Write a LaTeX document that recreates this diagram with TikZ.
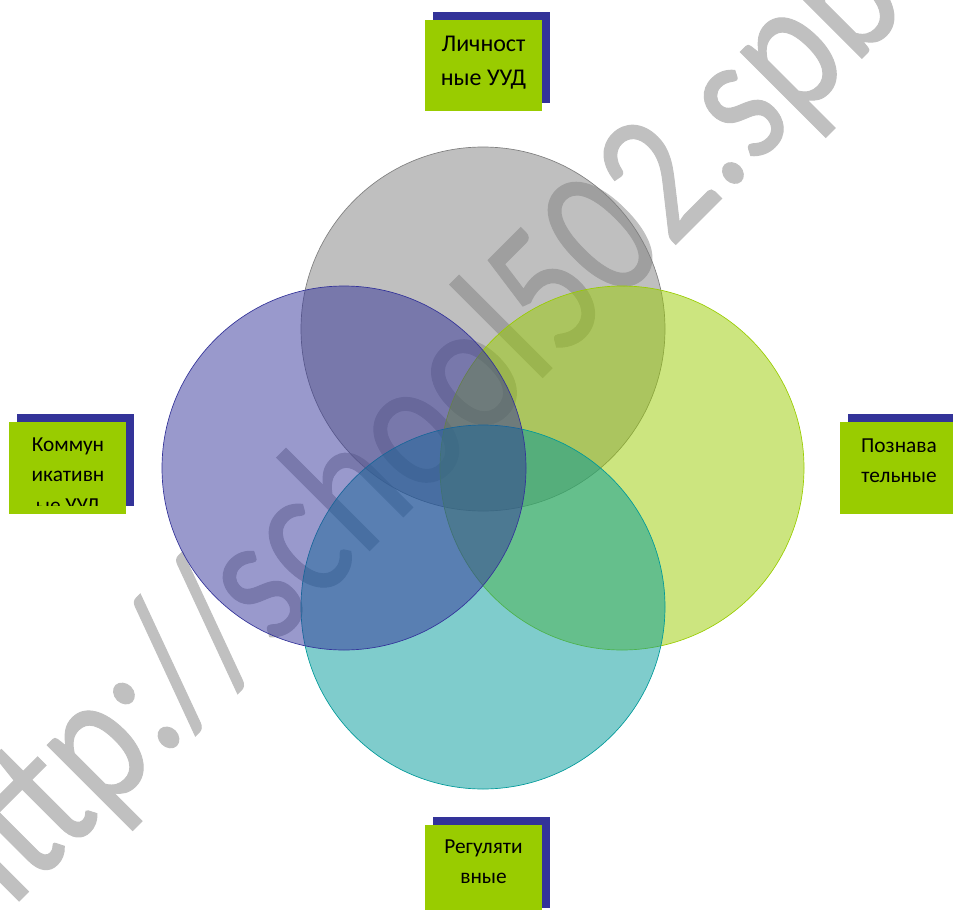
\documentclass[tikz,border=0pt]{standalone}
\usepackage{fontspec}
\setmainfont{Carlito}
\newfontfamily\wmfont[FakeBold=0.6]{Carlito}
\definecolor{shadowblue}{HTML}{333399}
\definecolor{boxgreen}{HTML}{99CC00}
\definecolor{cgray}{HTML}{7F7F7F}
\definecolor{cteal}{HTML}{009999}
\definecolor{wm}{HTML}{C0C0C0}
\tikzset{
  venn/.style={circle,minimum size=273pt,inner sep=0pt,fill opacity=0.5,line width=0.5pt},
  boxshadow/.style={fill=shadowblue,draw=none},
  boxfront/.style={fill=boxgreen,draw=none},
  lab/.style={align=center,font=\fontsize{16pt}{22.5pt}\selectfont,text=black,inner sep=0pt,anchor=north},
  labbig/.style={align=center,font=\fontsize{18pt}{25.5pt}\selectfont,text=black,inner sep=0pt,anchor=north},
}
\begin{document}
\begin{tikzpicture}[x=0.75pt,y=-0.75pt]
\useasboundingbox (0,0) rectangle (953,910);
\clip (0,0) rectangle (953,910);
\node[rotate=45,xscale=0.86,yscale=1.05,transform shape,anchor=base west,inner sep=0pt,text=wm,font=\wmfont\fontsize{135pt}{135pt}\selectfont] (wmark) at (-22.5,942.5) {http://school502.spb.ru};
\node[venn,fill=cgray,draw=cgray] (cA) at (483,329) {};
\node[venn,fill=boxgreen,draw=boxgreen] (cC) at (622,468) {};
\node[venn,fill=cteal,draw=cteal] (cD) at (483,607) {};
\node[venn,fill=shadowblue,draw=shadowblue] (cB) at (344,468) {};
% top
\fill[boxshadow] (433,12) rectangle (550,103);
\fill[boxfront] (425,20) rectangle (542,111);
\node[labbig] (tA) at (483.5,35.5) {Личност\\ные УУД};
% left
\fill[boxshadow] (17,414) rectangle (134,506);
\fill[boxfront] (9,422) rectangle (126,514);
\begin{scope}
\clip (9,422) rectangle (126,505.5);
\node[lab] (tB) at (68,437.3) {Коммун\\икативн\\[1pt]ые УУД};
\end{scope}
% right
\fill[boxshadow] (848,414) rectangle (953,506);
\fill[boxfront] (840,422) rectangle (953,514);
\node[lab] (tC) at (899,439) {Познава\\тельные};
% bottom
\fill[boxshadow] (433,817) rectangle (550,908);
\fill[boxfront] (425,825) rectangle (542,910);
\node[lab] (tD) at (483.5,839.3) {Регуляти\\вные};
\end{tikzpicture}
\end{document}
